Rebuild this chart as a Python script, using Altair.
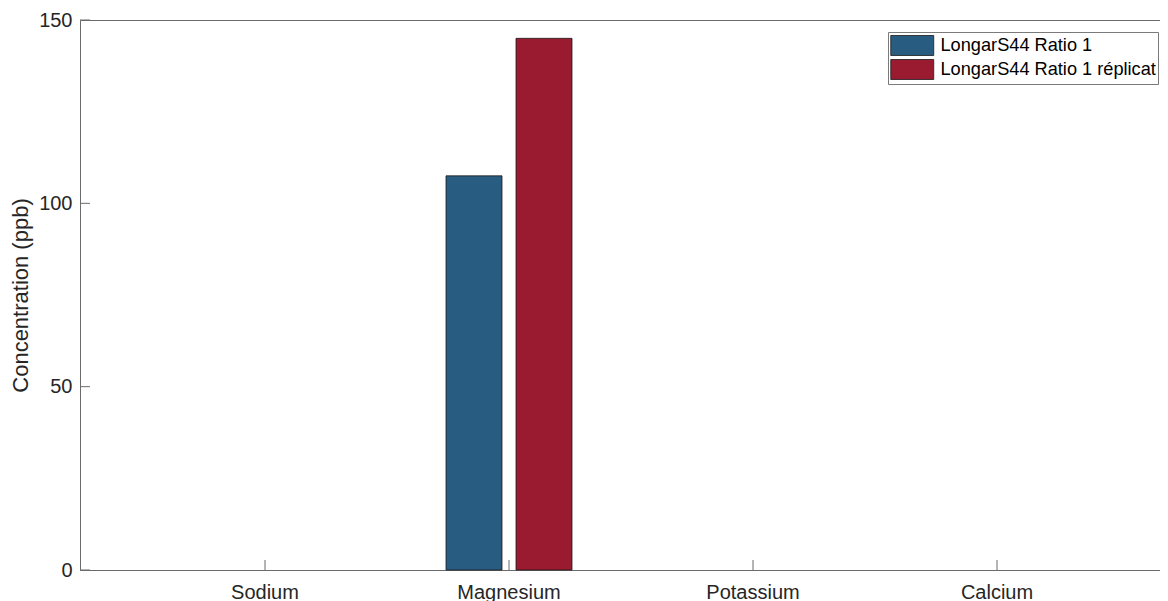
import altair as alt
import pandas as pd

categories = ["Sodium", "Magnesium", "Potassium", "Calcium"]
series = ["LongarS44 Ratio 1", "LongarS44 Ratio 1 réplicat"]
ratio1 = [0, 107.5, 0, 0]
replicat = [0, 145.0, 0, 0]
y_ticks = [0, 50, 100, 150]
colors = ["#285C81", "#9A1A30"]

rows = []
for c, a, b in zip(categories, ratio1, replicat):
    rows.append({"element": c, "series": series[0], "value": a})
    rows.append({"element": c, "series": series[1], "value": b})
df = pd.DataFrame(rows)
ticks_df = pd.DataFrame({"value": y_ticks})
cat_df = pd.DataFrame({"element": categories})

FONT = "Liberation Sans"
TXT = "#262626"
LINE = "#6b6b6b"

xscale = alt.Scale(domain=categories, paddingInner=0, paddingOuter=0.2131, align=0.6058)
yscale = alt.Scale(domain=[0, 150], nice=False, zero=True)

y_axis = alt.Axis(values=y_ticks, title="Concentration (ppb)", ticks=False, grid=False,
                  labelFontSize=20, labelColor=TXT, labelFont=FONT, labelPadding=8,
                  titleFontSize=22, titleFont=FONT, titleColor=TXT,
                  titleFontWeight="normal", titlePadding=6,
                  domainColor=LINE, domainWidth=1)

bars = alt.Chart(df).transform_filter("datum.value > 0").mark_bar(
    stroke="#1a1a1a", strokeWidth=0.8).encode(
    x=alt.X("element:N", scale=xscale, sort=categories,
            axis=alt.Axis(orient="bottom", title=None, ticks=False, labelAngle=0,
                          labelFontSize=20, labelColor=TXT, labelFont=FONT,
                          labelPadding=12, domainColor=LINE, domainWidth=1, grid=False)),
    xOffset=alt.XOffset("series:N", sort=series,
                        scale=alt.Scale(domain=series, paddingInner=0.2, paddingOuter=0.843)),
    y=alt.Y("value:Q", scale=yscale, axis=y_axis),
    color=alt.Color("series:N", sort=series,
                    scale=alt.Scale(domain=series, range=colors),
                    legend=alt.Legend(orient="none", legendX=808, legendY=12, padding=2,
                                      strokeColor="#7a7a7a", fillColor="white",
                                      symbolType="M-1,-0.93H3V0.93H-1Z", symbolSize=462,
                                      symbolStrokeColor="#1a1a1a", symbolStrokeWidth=0.8,
                                      symbolOpacity=1,
                                      labelFontSize=18.2, labelFont=FONT, labelColor="#000",
                                      labelLimit=400, labelOffset=27.5, rowPadding=-2.5,
                                      title=None)),
)

xt = alt.Chart(cat_df).mark_rule(color=LINE, strokeWidth=1).encode(
    x=alt.X("element:N", scale=xscale, sort=categories, bandPosition=0.5,
            axis=alt.Axis(orient="top", labels=False, ticks=False, title=None,
                          domainColor=LINE, domainWidth=1, grid=False)),
    y=alt.value(550),
    y2=alt.value(540),
)

yt = alt.Chart(ticks_df).mark_rule(color=LINE, strokeWidth=1).encode(
    y=alt.Y("value:Q", scale=yscale, axis=y_axis),
    x=alt.value(0),
    x2=alt.value(10),
)

chart = alt.layer(bars, xt, yt).resolve_axis(x="independent").properties(
    width=1080, height=550,
    padding={"left": 72, "top": 12, "right": 0, "bottom": 31},
    autosize=alt.AutoSizeParams(type="none"),
).configure_view(stroke=None)

chart.save("out.html", embed_options={"renderer": "svg", "actions": False})
